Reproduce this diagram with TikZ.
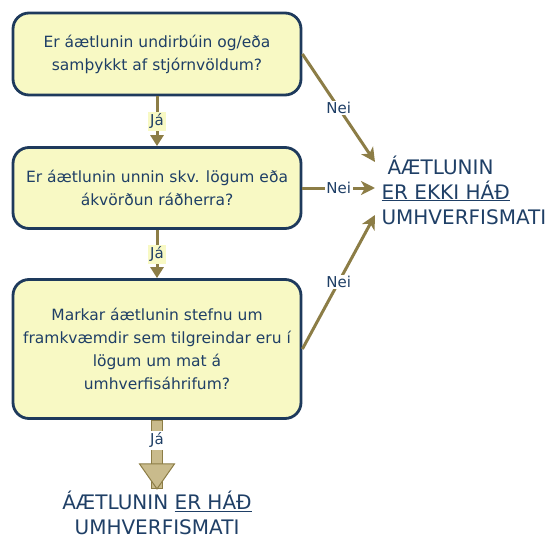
\documentclass[tikz,border=0pt]{standalone}
\usepackage{fontspec}
\setmainfont{DejaVu Sans}
\usetikzlibrary{arrows.meta}

\definecolor{kassi}{HTML}{F8F9C4}
\definecolor{rammi}{HTML}{1E3A5C}
\definecolor{oliva}{HTML}{8C7D46}
\definecolor{texti}{HTML}{1F3F66}
\definecolor{breid}{HTML}{C9BB8C}

\tikzset{
  spurning/.style={draw=rammi, line width=2.8pt, fill=kassi, rounded corners=16pt,
    minimum width=288pt, text=texti, align=center, font=\fontsize{15.5}{23}\selectfont},
  ja/.style={draw=oliva, line width=3pt, -{Triangle[length=11pt,width=13pt]}},
  jamerki/.style={fill=kassi, text=texti, font=\fontsize{15}{16}\selectfont, inner sep=2pt},
  nei/.style={draw=oliva, line width=3pt, -{Stealth[length=14pt,width=14pt,inset=4pt]}},
  neimerki/.style={fill=white, text=texti, font=\fontsize{15}{16}\selectfont, inner sep=1.5pt},
  nidurstada/.style={text=texti, font=\fontsize{20}{25}\selectfont}
}

\begin{document}
\begin{tikzpicture}[x=1pt,y=-1pt]
    \useasboundingbox (0,0) rectangle (555,541);
    % spurningar
    \node[spurning, minimum height=82pt] (q1) at (157,54) {Er áætlunin undirbúin og/eða\\samþykkt af stjórnvöldum?};
    \node[spurning, minimum height=81pt] (q2) at (157,188) {Er áætlunin unnin skv. lögum eða\\ákvörðun ráðherra?};
    \node[spurning, minimum height=139pt] (q3) at (157,349) {Markar áætlunin stefnu um\\framkvæmdir sem tilgreindar eru í\\lögum um mat á\\umhverfisáhrifum?};
    % niðurstöður
    \node[nidurstada, align=left, anchor=west] (ekki) at (378,190) {\hspace{6pt}ÁÆTLUNIN\\\underline{ER EKKI HÁÐ}\\UMHVERFISMATI};
    \node[nidurstada, align=center] (had) at (157,513) {ÁÆTLUNIN \underline{ER HÁÐ}\\UMHVERFISMATI};
    \coordinate (inn1) at ([shift={(-3,-28)}]ekki.west);
    \coordinate (inn2) at ([shift={(-3,-2)}]ekki.west);
    \coordinate (inn3) at ([shift={(-3,25)}]ekki.west);
    % já
    \draw[ja] (q1.south) -- node[jamerki] {Já} (q2.north);
    \draw[ja] (q2.south) -- node[jamerki] {Já} (q3.north);
    \draw[draw=oliva, fill=breid, line width=1pt] (q3.south) ++(-5.5,1) rectangle ++(11,68);
    \draw[draw=oliva, fill=breid, line width=1pt] (q3.south) ++(-17.5,44) -- ++(35,0) -- ++(-17.5,25) -- cycle;
    \node[jamerki, fill=white] (ja3) at (157,440) {Já};
    % nei
    \draw[nei] (q1.east) -- node[neimerki] {Nei} (inn1);
    \draw[nei] (q2.east) -- node[neimerki] {Nei} (inn2);
    \draw[nei] (q3.east) -- node[neimerki] {Nei} (inn3);
\end{tikzpicture}
\end{document}
